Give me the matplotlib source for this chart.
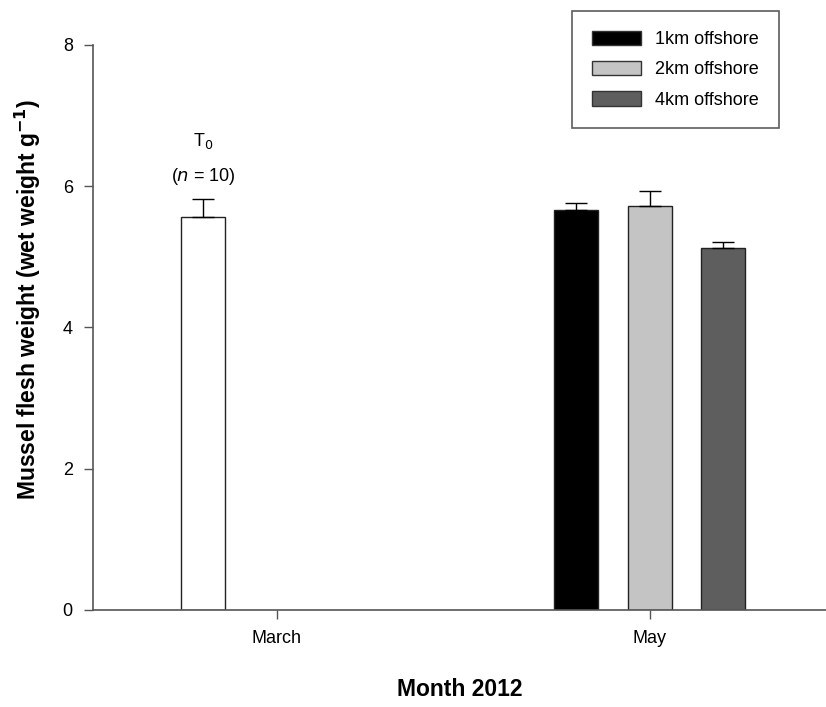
import matplotlib.pyplot as plt
from matplotlib.patches import Patch

plt.rcParams["font.family"] = ["Liberation Sans", "DejaVu Sans"]

# data
months = ["March", "May"]
t0_mean = 5.57
t0_err = 0.25
sites = ["1km offshore", "2km offshore", "4km offshore"]
may_means = [5.66, 5.72, 5.12]
may_errs = [0.10, 0.21, 0.09]
site_colors = ["#000000", "#c4c4c4", "#5e5e5e"]

SLOT = 0.197
WIDTH = 0.118

fig = plt.figure(figsize=(8.26, 7.07), dpi=100)
ax = fig.add_axes([0.1126, 0.1372, 0.8874, 0.7992])

# March: single T0 bar in the first slot of the group
x0 = 0 - SLOT
ax.bar(x0, t0_mean, width=WIDTH, color="white", edgecolor="#222222", lw=1.0)
ax.errorbar(x0, t0_mean, yerr=[[0], [t0_err]], fmt="none", ecolor="black",
            elinewidth=1.0, capsize=8, capthick=1.0)
top = t0_mean + t0_err
ax.annotate("T$_0$", (x0, top), xytext=(0, 38), textcoords="offset points",
            ha="center", va="baseline", fontsize=13)
ax.annotate("($\\it{n}$ = 10)", (x0, top), xytext=(0, 13), textcoords="offset points",
            ha="center", va="baseline", fontsize=13)

# May: three sites
for i, (m, e, c) in enumerate(zip(may_means, may_errs, site_colors)):
    x = 1 + (i - 1) * SLOT
    ax.bar(x, m, width=WIDTH, color=c, edgecolor="#222222", lw=1.0)
    ax.errorbar(x, m, yerr=[[0], [e]], fmt="none", ecolor="black",
                elinewidth=1.0, capsize=8, capthick=1.0)

ax.set_xlim(-0.493, 1.472)
ax.set_ylim(0, 8)
ax.set_xticks([0, 1])
ax.set_xticklabels(months)
ax.set_yticks([0, 2, 4, 6, 8])
ax.tick_params(axis="both", direction="out", length=6.5, width=1.0, labelsize=13,
               pad=8, color="#555555")
ax.spines["top"].set_visible(False)
ax.spines["right"].set_visible(False)
for s in ("left", "bottom"):
    ax.spines[s].set_color("#555555")
    ax.spines[s].set_linewidth(1.2)

ax.set_xlabel("Month 2012", fontsize=16.5, fontweight="bold", labelpad=22)
ax.set_ylabel("Mussel flesh weight (wet weight g$^{\\mathbf{-1}}$)", fontsize=16.5,
              fontweight="bold", labelpad=16)
ax.yaxis.set_label_coords(-0.068, 0.55)

handles = [Patch(facecolor=c, edgecolor="#333333", label=l) for c, l in zip(site_colors, sites)]
leg = ax.legend(handles=handles, loc="upper left", bbox_to_anchor=(0.6535, 1.06),
                fontsize=13, frameon=True, fancybox=False, edgecolor="#333333",
                handlelength=2.7, handleheight=0.85, handletextpad=0.8,
                borderpad=1.1, labelspacing=0.7, borderaxespad=0)
leg.get_frame().set_linewidth(1.2)

fig.savefig("out.png", dpi=100)
